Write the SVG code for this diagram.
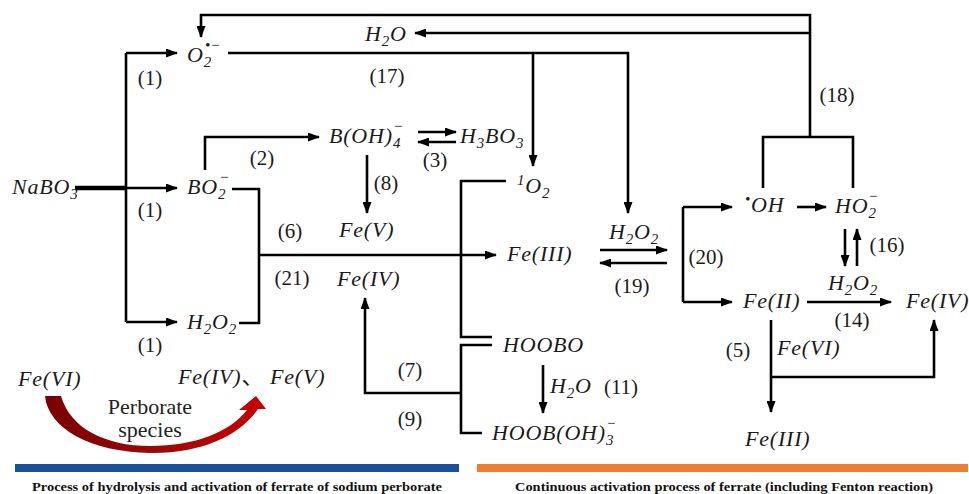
<svg xmlns="http://www.w3.org/2000/svg" width="969" height="494" viewBox="0 0 969 494">
<defs>
<marker id="ah" markerUnits="userSpaceOnUse" markerWidth="12" markerHeight="9" refX="11" refY="4.5" orient="auto"><path d="M0,0 L12,4.5 L0,9 z" fill="#000"/></marker>
<linearGradient id="rg" x1="45" y1="0" x2="266" y2="0" gradientUnits="userSpaceOnUse"><stop offset="0" stop-color="#7a0000"/><stop offset="0.5" stop-color="#9a0a0a"/><stop offset="1" stop-color="#c80000"/></linearGradient>
<style>
.m{font-family:"Liberation Serif","DejaVu Serif",serif;font-style:italic;font-size:22px;letter-spacing:0.8px;fill:#1a1a1a}
.s{font-size:15px}
.sp{font-family:"Liberation Serif","DejaVu Serif",serif;font-style:italic;font-size:15px;fill:#1a1a1a}
.n{font-family:"Liberation Serif",serif;font-size:21px;fill:#1a1a1a;text-anchor:middle}
.ln{fill:none;stroke:#000;stroke-width:2.6}
.a{marker-end:url(#ah)}
.cap{font-family:"Liberation Serif",serif;font-weight:bold;font-size:13px;fill:#111}
.pb{font-family:"Liberation Serif",serif;font-size:22px;fill:#222;text-anchor:middle}
</style>
</defs>
<rect width="969" height="494" fill="#fff"/>

<g id="connectors" class="ln">
<path d="M75,188 H126" stroke-width="4.5"/>
<path d="M126,53 V322"/>
<path class="a" d="M126,53 H177"/>
<path class="a" d="M126,188 H177"/>
<path class="a" d="M126,322 H177"/>
<path class="a" d="M205,170 V137 H319"/>
<path class="a" d="M228,53 H628 V213"/>
<path class="a" d="M533,53 V166"/>
<path class="a" d="M810,137 V15 H201 V37"/>
<path class="a" d="M810,33 H415"/>
<path d="M763,188 V137 H853 V188"/>
<path class="a" d="M418,132 H456"/>
<path class="a" d="M456,142 H418"/>
<path class="a" d="M367,155 V213"/>
<path d="M232,189 H259 V323 H239"/>
<path class="a" d="M259,255 H496"/>
<path d="M506,181 H461 V337 H492"/>
<path d="M492,345 H461 V433 H482"/>
<path class="a" d="M461,393 H365 V298"/>
<path class="a" d="M543,365 V413"/>
<path class="a" d="M600,250 H667"/>
<path class="a" d="M667,263 H600"/>
<path d="M683,207 V302"/>
<path class="a" d="M683,207 H732"/>
<path class="a" d="M683,302 H732"/>
<path class="a" d="M797,207 H826"/>
<path class="a" d="M845,229 V266"/>
<path class="a" d="M857,266 V229"/>
<path class="a" d="M807,302 H891"/>
<path class="a" d="M771,320 V412"/>
<path class="a" d="M771,377 H934 V320"/>
</g>

<g id="labels">
<text class="n" x="150" y="85">(1)</text>
<text class="n" x="150" y="217">(1)</text>
<text class="n" x="150" y="352">(1)</text>
<text class="n" x="387" y="83">(17)</text>
<text class="n" x="262" y="165">(2)</text>
<text class="n" x="435" y="167">(3)</text>
<text class="n" x="386" y="190">(8)</text>
<text class="n" x="290" y="238">(6)</text>
<text class="n" x="292" y="285">(21)</text>
<text class="n" x="410" y="377">(7)</text>
<text class="n" x="410" y="426">(9)</text>
<text class="n" x="621" y="394">(11)</text>
<text class="n" x="632" y="293">(19)</text>
<text class="n" x="706" y="264">(20)</text>
<text class="n" x="837" y="102">(18)</text>
<text class="n" x="887" y="252">(16)</text>
<text class="n" x="852" y="327">(14)</text>
<text class="n" x="738" y="357">(5)</text>
</g>

<g id="n-NaBO3"><text class="m" x="12" y="194">NaBO<tspan class="s" dy="5">3</tspan></text></g>
<g id="n-O2rad"><text class="m" x="187" y="62">O<tspan class="s" dy="5">2</tspan></text><text class="sp" x="205" y="50">•−</text></g>
<g id="n-BO2"><text class="m" x="187" y="194">BO<tspan class="s" dy="5">2</tspan></text><text class="sp" x="219" y="182">−</text></g>
<g id="n-H2O2-a"><text class="m" x="187" y="329">H<tspan class="s" dy="5">2</tspan><tspan dy="-5">O</tspan><tspan class="s" dy="5">2</tspan></text></g>
<g id="n-H2O-top"><text class="m" x="365" y="41">H<tspan class="s" dy="5">2</tspan><tspan dy="-5">O</tspan></text></g>
<g id="n-BOH4"><text class="m" x="329" y="143">B(OH)<tspan class="s" dy="5">4</tspan></text><text class="sp" x="393" y="131">−</text></g>
<g id="n-H3BO3"><text class="m" x="460" y="143">H<tspan class="s" dy="5">3</tspan><tspan dy="-5">BO</tspan><tspan class="s" dy="5">3</tspan></text></g>
<g id="n-FeV-mid"><text class="m" x="339" y="237">Fe(V)</text></g>
<g id="n-1O2"><text class="m" x="517" y="193"><tspan class="s" dy="-8">1</tspan><tspan dy="8">O</tspan><tspan class="s" dy="5">2</tspan></text></g>
<g id="n-FeIII"><text class="m" x="507" y="261">Fe(III)</text></g>
<g id="n-FeIV-mid"><text class="m" x="337" y="286">Fe(IV)</text></g>
<g id="n-HOOBO"><text class="m" x="503" y="352">HOOBO</text></g>
<g id="n-H2O-11"><text class="m" x="550" y="393">H<tspan class="s" dy="5">2</tspan><tspan dy="-5">O</tspan></text></g>
<g id="n-HOOBOH3"><text class="m" x="492" y="440">HOOB(OH)<tspan class="s" dy="5">3</tspan></text><text class="sp" x="606" y="428">−</text></g>
<g id="n-H2O2-19"><text class="m" x="609" y="239">H<tspan class="s" dy="5">2</tspan><tspan dy="-5">O</tspan><tspan class="s" dy="5">2</tspan></text></g>
<g id="n-OH"><text class="m" x="745" y="212"><tspan class="s" font-size="12" dy="-8">•</tspan><tspan dy="8">OH</tspan></text></g>
<g id="n-HO2"><text class="m" x="835" y="213">HO<tspan class="s" dy="5">2</tspan></text><text class="sp" x="868" y="201">−</text></g>
<g id="n-H2O2-16"><text class="m" x="828" y="290">H<tspan class="s" dy="5">2</tspan><tspan dy="-5">O</tspan><tspan class="s" dy="5">2</tspan></text></g>
<g id="n-FeII"><text class="m" x="743" y="308">Fe(II)</text></g>
<g id="n-FeIV-r"><text class="m" x="906" y="308">Fe(IV)</text></g>
<g id="n-FeVI-5"><text class="m" x="777" y="355">Fe(VI)</text></g>
<g id="n-FeIII-b"><text class="m" x="745" y="446">Fe(III)</text></g>

<g id="legend-left">
<text class="m" x="18" y="386">Fe(VI)</text>
<text class="m" x="178" y="384">Fe(IV)<tspan font-family="'Noto Sans CJK SC',sans-serif" font-style="normal">、</tspan><tspan x="270">Fe(V)</tspan></text>
<path d="M45,396 C48,428 90,452 150,453 C200,454 240,436 258,409 L266,409 L256,396 L239,410 L247,410 C230,432 195,446 150,446 C105,446 70,428 61,396 Z" fill="url(#rg)"/>
<text class="pb" x="150" y="414">Perborate</text>
<text class="pb" x="150" y="437">species</text>
</g>

<g id="footer">
<rect x="15" y="464" width="444" height="8" fill="#1c4f9c"/>
<rect x="477" y="464" width="491" height="8" fill="#ed7d31"/>
<text class="cap" x="32" y="491" textLength="410" lengthAdjust="spacingAndGlyphs">Process of hydrolysis and activation of ferrate of sodium perborate</text>
<text class="cap" x="515" y="491" textLength="418" lengthAdjust="spacingAndGlyphs">Continuous activation process of ferrate (including Fenton reaction)</text>
</g>
</svg>
